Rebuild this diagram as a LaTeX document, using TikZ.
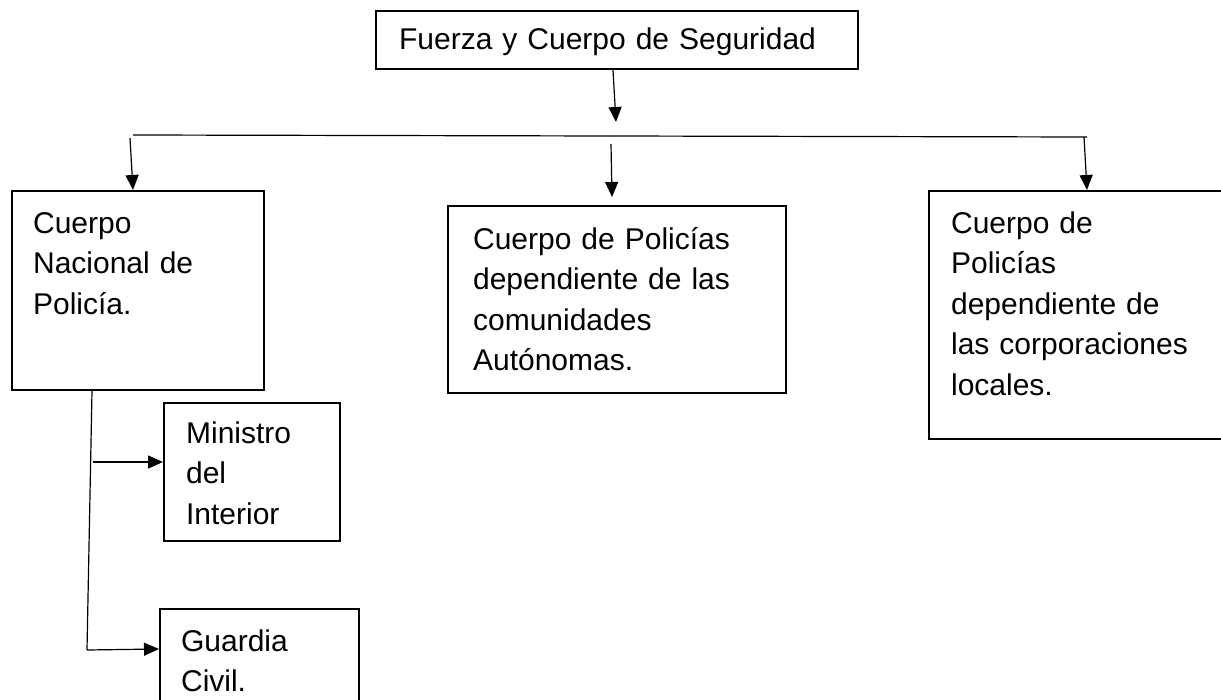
\documentclass[tikz,border=0pt]{standalone}
\usepackage{fontspec}
\setmainfont{Liberation Sans}
\usepackage{tikz}
\usetikzlibrary{calc,arrows.meta}

\begin{document}
\begin{tikzpicture}[
      x=1pt, y=-1pt,
      box/.style={
            draw, line width=2.2pt, anchor=north west,
            align=left, inner ysep=0pt,
            font=\fontsize{30}{40.5}\selectfont, text=black
        },
      arr/.style={-{Triangle[length=15pt,width=13pt]}, line width=1.2pt},
      link/.style={line width=1.2pt}
      ]
    \useasboundingbox (0,0) rectangle (1221,700);

    \node[box, inner xsep=23pt, text width=436pt, text height=38pt, text depth=20pt] (fcs) at (375,10) {Fuerza y Cuerpo de Seguridad};
    \node[box, inner xsep=21pt, text width=210pt, text height=42pt, text depth=157pt] (cnp) at (11,190) {Cuerpo\\Nacional de\\Policía.};
    \node[box, inner xsep=25pt, text width=288pt, text height=43pt, text depth=144pt] (cpca) at (447,205) {Cuerpo de Policías\\dependiente de las\\comunidades\\Autónomas.};
    \node[box, inner xsep=22pt, text width=268pt, text height=42pt, text depth=206pt] (cpcl) at (928,190) {Cuerpo de\\Policías\\dependiente de\\las corporaciones\\locales.};
    \node[box, inner xsep=22pt, text width=132pt, text height=40pt, text depth=98pt] (mint) at (163,402) {Ministro\\del\\Interior};
    \node[box, inner xsep=21pt, text width=157pt, text height=42pt, text depth=70pt] (gc) at (159,608) {Guardia\\Civil.};

    \coordinate (busL) at (133,135);
    \coordinate (busR) at (1087,137);
    \coordinate (hub) at (616,122);
    \coordinate (dropL) at (130,138);
    \coordinate (dropM) at (611,144);
    \coordinate (dropR) at (1084,137);
    \coordinate (stem) at (87,650);
    \coordinate (toMint) at (93,462);

    \draw[arr] ($(fcs.south west)+(238,0)$) -- (hub);
    \draw[link] (busL) -- (busR);
    \draw[arr] (dropL) -- ($(cnp.north west)+(122,0)$);
    \draw[arr] (dropM) -- ($(cpca.north west)+(165,-8)$);
    \draw[arr] (dropR) -- ($(cpcl.north west)+(159,0)$);
    \draw[link] ($(cnp.south west)+(81,0)$) -- (stem);
    \draw[arr] (toMint) -- ($(mint.north west)+(0,60)$);
    \draw[arr] (stem) -- ($(gc.north west)+(0,41)$);
  \end{tikzpicture}
\end{document}
